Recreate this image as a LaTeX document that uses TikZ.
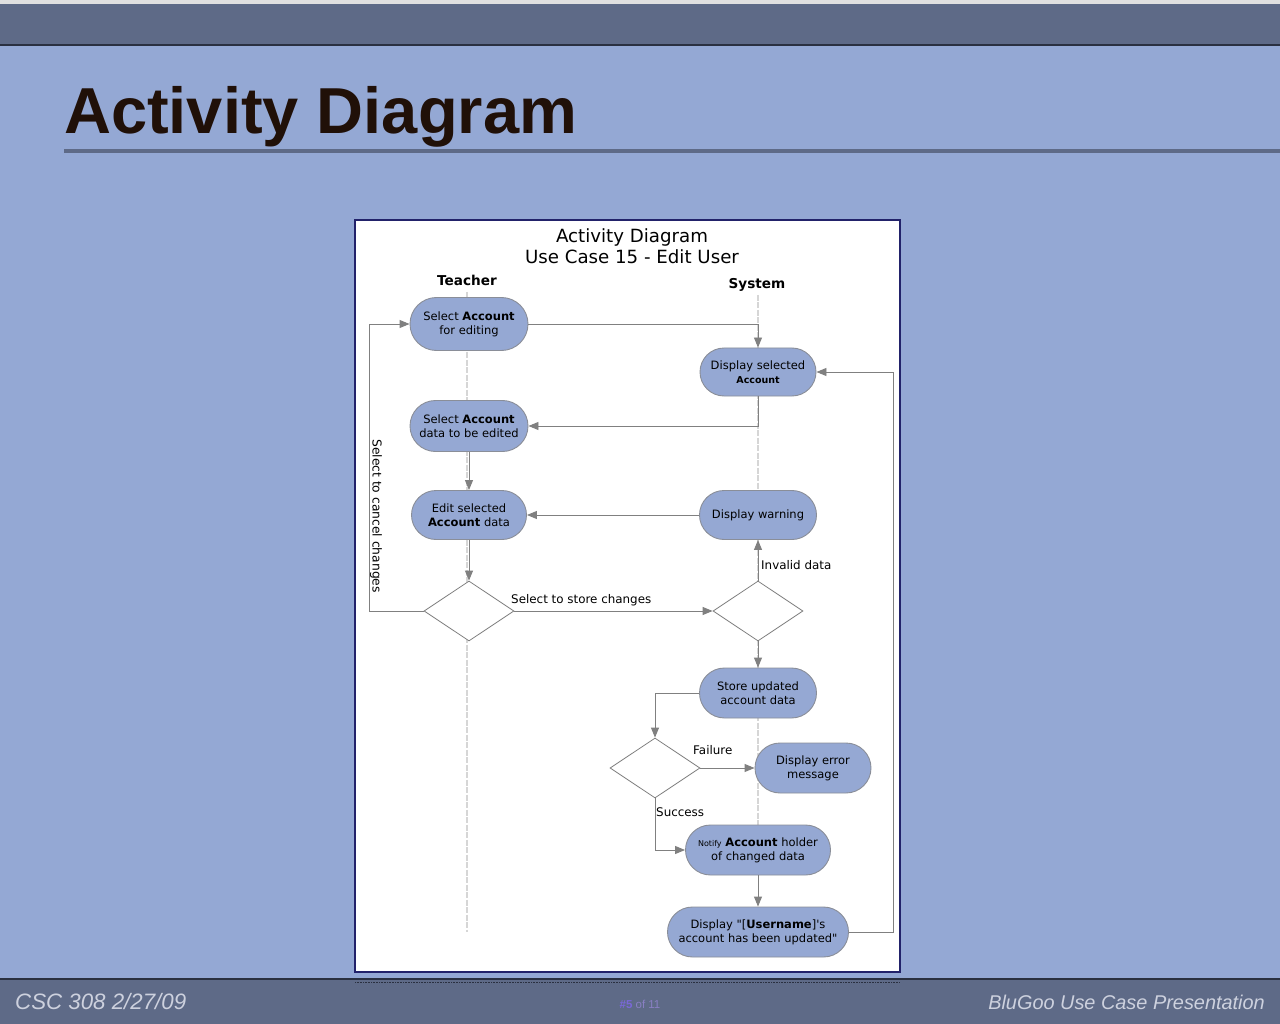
\documentclass[tikz,border=0pt]{standalone}
\usepackage{fontspec}
\setmainfont{Liberation Sans}
\newfontfamily\dv{DejaVu Sans}
\usetikzlibrary{arrows.meta,shapes.misc,shapes.geometric}

\definecolor{slidebg}{HTML}{94A8D4}
\definecolor{bandcol}{HTML}{5E6A87}
\definecolor{bandline}{HTML}{2A3040}
\definecolor{titlecol}{HTML}{201008}
\definecolor{framecol}{HTML}{22226A}
\definecolor{nodefill}{HTML}{95A8D3}
\definecolor{nodeedge}{HTML}{8A8E98}
\definecolor{conncol}{HTML}{808080}
\definecolor{lanecol}{HTML}{D6D6D6}
\definecolor{foottext}{HTML}{CDD1DE}
\definecolor{pagenum}{HTML}{7A68D8}
\definecolor{pageof}{HTML}{8A80C4}

\tikzset{
  act/.style={rounded rectangle, draw=nodeedge, line width=0.9pt, fill=nodefill,
    inner sep=0pt, align=center, font=\dv\fontsize{11.5}{13.8}\selectfont},
  choice/.style={diamond, draw=conncol, line width=0.8pt, fill=white,
    inner sep=0pt, minimum width=90pt, minimum height=60pt},
  conn/.style={draw=conncol, line width=0.9pt,
    -{Triangle[length=10pt,width=8pt]}},
  lane/.style={draw=lanecol, line width=2pt, dash pattern=on 6pt off 1.5pt},
  lbl/.style={font=\dv\fontsize{11.9}{14}\selectfont, inner sep=0pt},
  lanehead/.style={font=\dv\bfseries\fontsize{13.6}{16}\selectfont, inner sep=0pt},
}

\begin{document}
\begin{tikzpicture}[x=1pt,y=-1pt]
\useasboundingbox (0,0) rectangle (1280,1024);

% slide background, header and footer bands
\fill[slidebg] (0,0) rectangle (1280,1024);
\fill[white!88!black] (0,0) rectangle (1280,4);
\fill[bandcol] (0,4) rectangle (1280,45);
\draw[bandline, line width=1.2pt] (0,45) -- (1280,45);
\fill[bandcol] (0,979) rectangle (1280,1024);
\draw[bandline, line width=1.2pt] (0,979) -- (1280,979);
\draw[bandline, line width=0.8pt, dash pattern=on 0.8pt off 0.8pt] (355,982.5) -- (900,982.5);

% slide title and its rule
\node[anchor=base west, inner sep=0pt, text=titlecol,
      font=\bfseries\fontsize{65}{70}\selectfont] (slidetitle) at (64,134) {Activity Diagram};
\fill[bandcol] (64,149) rectangle (1280,153);

% footer texts
\node[anchor=base west, inner sep=0pt, text=foottext,
      font=\itshape\fontsize{22.3}{24}\selectfont] (footl) at (15,1009) {CSC 308 2/27/09};
\node[anchor=base, inner sep=0pt, text=pagenum,
      font=\fontsize{11.5}{13}\selectfont] (footc) at (640,1008) {\textbf{\#5} \textcolor{pageof}{of 11}};
\node[anchor=base east, inner sep=0pt, text=foottext,
      font=\itshape\fontsize{19.9}{24}\selectfont] (footr) at (1265,1009) {BluGoo Use Case Presentation};

% diagram sheet
\fill[white] (355,220) rectangle (900,972);
\draw[framecol, line width=2pt] (355,220) rectangle (900,972);

\node[anchor=base, inner sep=0pt, font=\dv\fontsize{18.2}{20}\selectfont] (dtitle1) at (632,243) {Activity Diagram};
\node[anchor=base, inner sep=0pt, font=\dv\fontsize{18.2}{20}\selectfont] (dtitle2) at (632,264) {Use Case 15 - Edit User};

% swimlanes
\node[lanehead, anchor=base] (teacher) at (467,286) {Teacher};
\node[lanehead, anchor=base] (system) at (757,289) {System};
\draw[lane] (467,292) -- (467,932);
\draw[lane] (758,295) -- (758,826);

% activities
\node[act, minimum width=118pt, minimum height=53pt] (a1) at (469,324)
  {Select \textbf{Account}\\for editing};
\node[act, minimum width=116pt, minimum height=48pt] (s1) at (758,372)
  {Display selected\\{\fontsize{9.5}{11}\selectfont\textbf{Account}}};
\node[act, minimum width=118pt, minimum height=51pt] (a2) at (469,426)
  {Select \textbf{Account}\\data to be edited};
\node[act, minimum width=115pt, minimum height=49pt] (a3) at (469,515)
  {Edit selected\\\textbf{Account} data};
\node[act, minimum width=117pt, minimum height=49pt] (s2) at (758,515)
  {Display warning};
\node[choice] (d1) at (469,611) {};
\node[choice] (d2) at (758,611) {};
\node[act, minimum width=117pt, minimum height=50pt] (s3) at (758,693)
  {Store updated\\account data};
\node[choice] (d3) at (655,768) {};
\node[act, minimum width=116pt, minimum height=50pt] (s4) at (813,768)
  {Display error\\message};
\node[act, minimum width=145pt, minimum height=50pt] (s5) at (758,850)
  {{\fontsize{8}{10}\selectfont Notify} \textbf{Account} holder\\of changed data};
\node[act, minimum width=181pt, minimum height=50pt] (s6) at (758,932)
  {Display "[\textbf{Username}]'s\\account has been updated"};

% bend points of the return paths
\coordinate (cancelbend) at (369,611);
\coordinate (loopbend) at (893,932);

% flows
\draw[conn] (a1.east) -| (s1.north);
\draw[conn] (s1.south) |- (a2.east);
\draw[conn] (a2.south) -- (a3.north);
\draw[conn] (s2.west) -- (a3.east);
\draw[conn] (a3.south) -- (d1.north);
\draw[conn] (d1.east) -- (d2.west);
\draw[conn] (d1.west) -- (cancelbend) |- (a1.west);
\draw[conn] (d2.north) -- (s2.south);
\draw[conn] (d2.south) -- (s3.north);
\draw[conn] (s3.west) -| (d3.north);
\draw[conn] (d3.east) -- (s4.west);
\draw[conn] (d3.south) |- (s5.west);
\draw[conn] (s5.south) -- (s6.north);
\draw[conn] (s6.east) -- (loopbend) |- (s1.east);

% guard labels
\node[lbl, anchor=base west] (storelbl) at (511,603) {Select to store changes};
\node[lbl, anchor=base west] (invalidlbl) at (761,569) {Invalid data};
\node[lbl, anchor=base west] (failurelbl) at (693,754) {Failure};
\node[lbl, anchor=base west] (successlbl) at (656,816) {Success};
\node[lbl, rotate=-90, font=\dv\fontsize{12.3}{14}\selectfont] (cancellbl) at (376,516) {Select to cancel changes};
\end{tikzpicture}
\end{document}
